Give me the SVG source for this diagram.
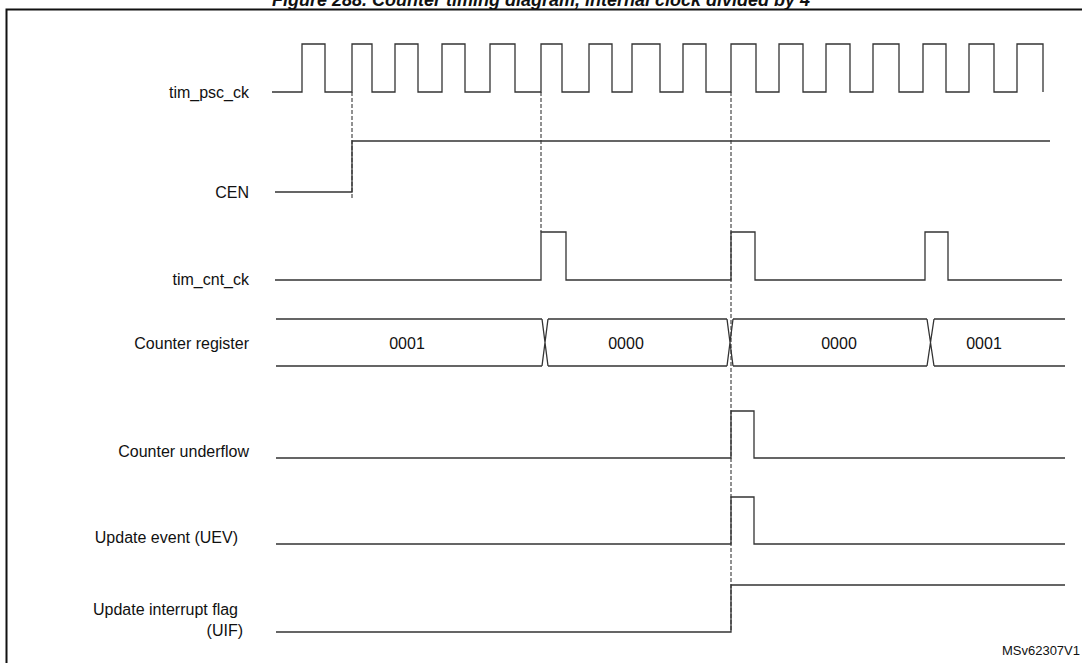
<svg xmlns="http://www.w3.org/2000/svg" width="1082" height="663" viewBox="0 0 1082 663">
<style>
.w{fill:none;stroke:#333;stroke-width:1.3}
.d{fill:none;stroke:#222;stroke-width:1;stroke-dasharray:4,2}
.l{font-family:"Liberation Sans",Arial,sans-serif;font-size:16px;fill:#111;text-anchor:end}
.v{font-family:"Liberation Sans",Arial,sans-serif;font-size:16px;fill:#111;text-anchor:middle}
</style>
<rect width="1082" height="663" fill="#fff"/>
<text x="541" y="6" text-anchor="middle" font-family="Liberation Sans,Arial,sans-serif" font-size="18" font-weight="bold" font-style="italic" fill="#111">Figure 288. Counter timing diagram, internal clock divided by 4</text>
<rect x="6.5" y="9.5" width="1080" height="660" fill="none" stroke="#111" stroke-width="2"/>
<g id="labels">
<text class="l" x="249" y="98">tim_psc_ck</text>
<text class="l" x="249" y="198">CEN</text>
<text class="l" x="249" y="285">tim_cnt_ck</text>
<text class="l" x="249" y="349">Counter register</text>
<text class="l" x="249" y="457">Counter underflow</text>
<text class="l" x="238" y="543">Update event (UEV)</text>
<text class="l" x="238" y="615">Update interrupt flag</text>
<text class="l" x="243" y="636">(UIF)</text>
<text x="1080" y="655" text-anchor="end" font-family="Liberation Sans,Arial,sans-serif" font-size="13" fill="#111">MSv62307V1</text>
</g>
<g id="connectors">
<path class="d" d="M352 92V198M541 92V232M731 92V632"/>
</g>
<g id="tim_psc_ck"><path class="w" d="M272 92H302V44H325V92H352V44H372V92H395V44H418V92H442V44H465V92H490V44H515V92H541V44H562V92H589V44H612V92H632V44H660V92H683V44H706V92H731V44H756V92H779V44H803V92H826V44H850V92H873V44H899V92H923V44H946V92H969V44H994V92H1017V44H1043V92"/></g>
<g id="CEN"><path class="w" d="M275 192H352V141H1050"/></g>
<g id="tim_cnt_ck"><path class="w" d="M275 280H541V232H566V280H731V232H755V280H925V232H948V280H1062"/></g>
<g id="counter">
<path class="w" d="M276 319H542M276 366H542M548 319H727M548 366H727M733 319H927M733 366H927M934 319H1065M934 366H1065M542 319L548 366M548 319L542 366M727 319L733 366M733 319L727 366M927 319L934 366M934 319L927 366"/>
<text class="v" x="407" y="349">0001</text>
<text class="v" x="626" y="349">0000</text>
<text class="v" x="839" y="349">0000</text>
<text class="v" x="984" y="349">0001</text>
</g>
<g id="underflow"><path class="w" d="M276 458H731V411H754V458H1065"/></g>
<g id="uev"><path class="w" d="M276 544H731V497H754V544H1065"/></g>
<g id="uif"><path class="w" d="M276 632H731V585H1065"/></g>
</svg>
